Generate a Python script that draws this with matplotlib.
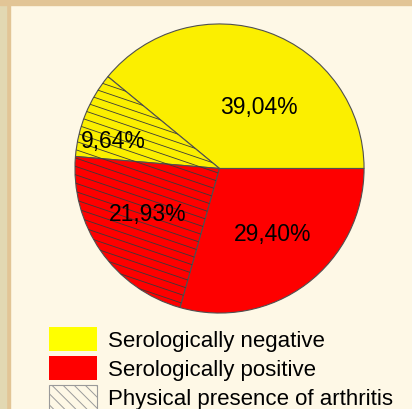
import matplotlib
import matplotlib.pyplot as plt
import numpy as np
from matplotlib.patches import Patch
matplotlib.use('Agg')

# data
categorias = ['Serologically negative', 'Serologically negative (arthritis)',
              'Serologically positive (arthritis)', 'Serologically positive']
porcentajes = [39.04, 9.64, 21.93, 29.40]
con_artritis = [False, True, True, False]
colores = ['#FBEF00', '#FBEF00', '#FE0000', '#FE0000']
leyenda = ['Serologically negative', 'Serologically positive',
           'Physical presence of arthritis']

# label layout (angle in degrees, radius fraction)
pos_etiquetas = [(57, 0.50), (166, 0.76), (213, 0.59), (309, 0.585)]

plt.rcParams['font.family'] = ['Liberation Sans', 'DejaVu Sans']
plt.rcParams['hatch.color'] = '#9a9a9a'
plt.rcParams['hatch.linewidth'] = 0.7

fondo = '#FEF8E6'
fig = plt.figure(figsize=(4.12, 4.09), dpi=100, facecolor=fondo)

# borders
fig.patches.append(plt.Rectangle((0, 0), 10 / 412, 1, transform=fig.transFigure,
                                 color='#E2C596', zorder=0))
fig.patches.append(plt.Rectangle((0, 0), 6 / 412, 1, transform=fig.transFigure,
                                 color='#E2D8B2', zorder=0))
fig.patches.append(plt.Rectangle((0, 1 - 5 / 409), 1, 5 / 409, transform=fig.transFigure,
                                 color='#E2C596', zorder=0))

ax = fig.add_axes([73.5 / 412, (409 - 314.5) / 409, 292 / 412, 292 / 409])
ax.set_facecolor('none')
wedges, _ = ax.pie(porcentajes, colors=colores, startangle=0, counterclock=True,
                   radius=1, wedgeprops=dict(edgecolor='#505050', linewidth=0.8))
ax.set_xlim(-1.01, 1.01)
ax.set_ylim(-1.01, 1.01)
ax.set_aspect('equal')
ax.axis('off')

# shallow hatch lines clipped to the arthritis wedges
pendiente = -0.34
xs = np.array([-1.2, 1.2])
for w, h in zip(wedges, con_artritis):
    if not h:
        continue
    for c in np.arange(-1.6, 1.6, 0.058):
        ln, = ax.plot(xs, pendiente * xs + c, color='#3a3a3a', lw=0.6, zorder=3)
        ln.set_clip_path(w)

total = sum(porcentajes)
for v, (ang, r) in zip(porcentajes, pos_etiquetas):
    t = np.deg2rad(ang)
    txt = f'{v / total * 100:.2f}'.replace('.', ',') + '%'
    ax.text(r * np.cos(t), r * np.sin(t), txt, ha='center', va='center',
            fontsize=16.5, zorder=5)

manejadores = [Patch(facecolor='#FFFF00', edgecolor='none'),
               Patch(facecolor='#FF0000', edgecolor='none'),
               Patch(facecolor='none', edgecolor='#9a9a9a', hatch='\\\\\\', lw=0.8)]
fig.legend(manejadores, leyenda, loc='upper left',
           bbox_to_anchor=(49 / 412, 1 - 327 / 409), frameon=False,
           fontsize=16, handlelength=2.16, handleheight=1.3,
           handletextpad=0.5, labelspacing=0.21, borderpad=0, borderaxespad=0)

fig.savefig('out.png', dpi=100, facecolor=fondo)
plt.close()
